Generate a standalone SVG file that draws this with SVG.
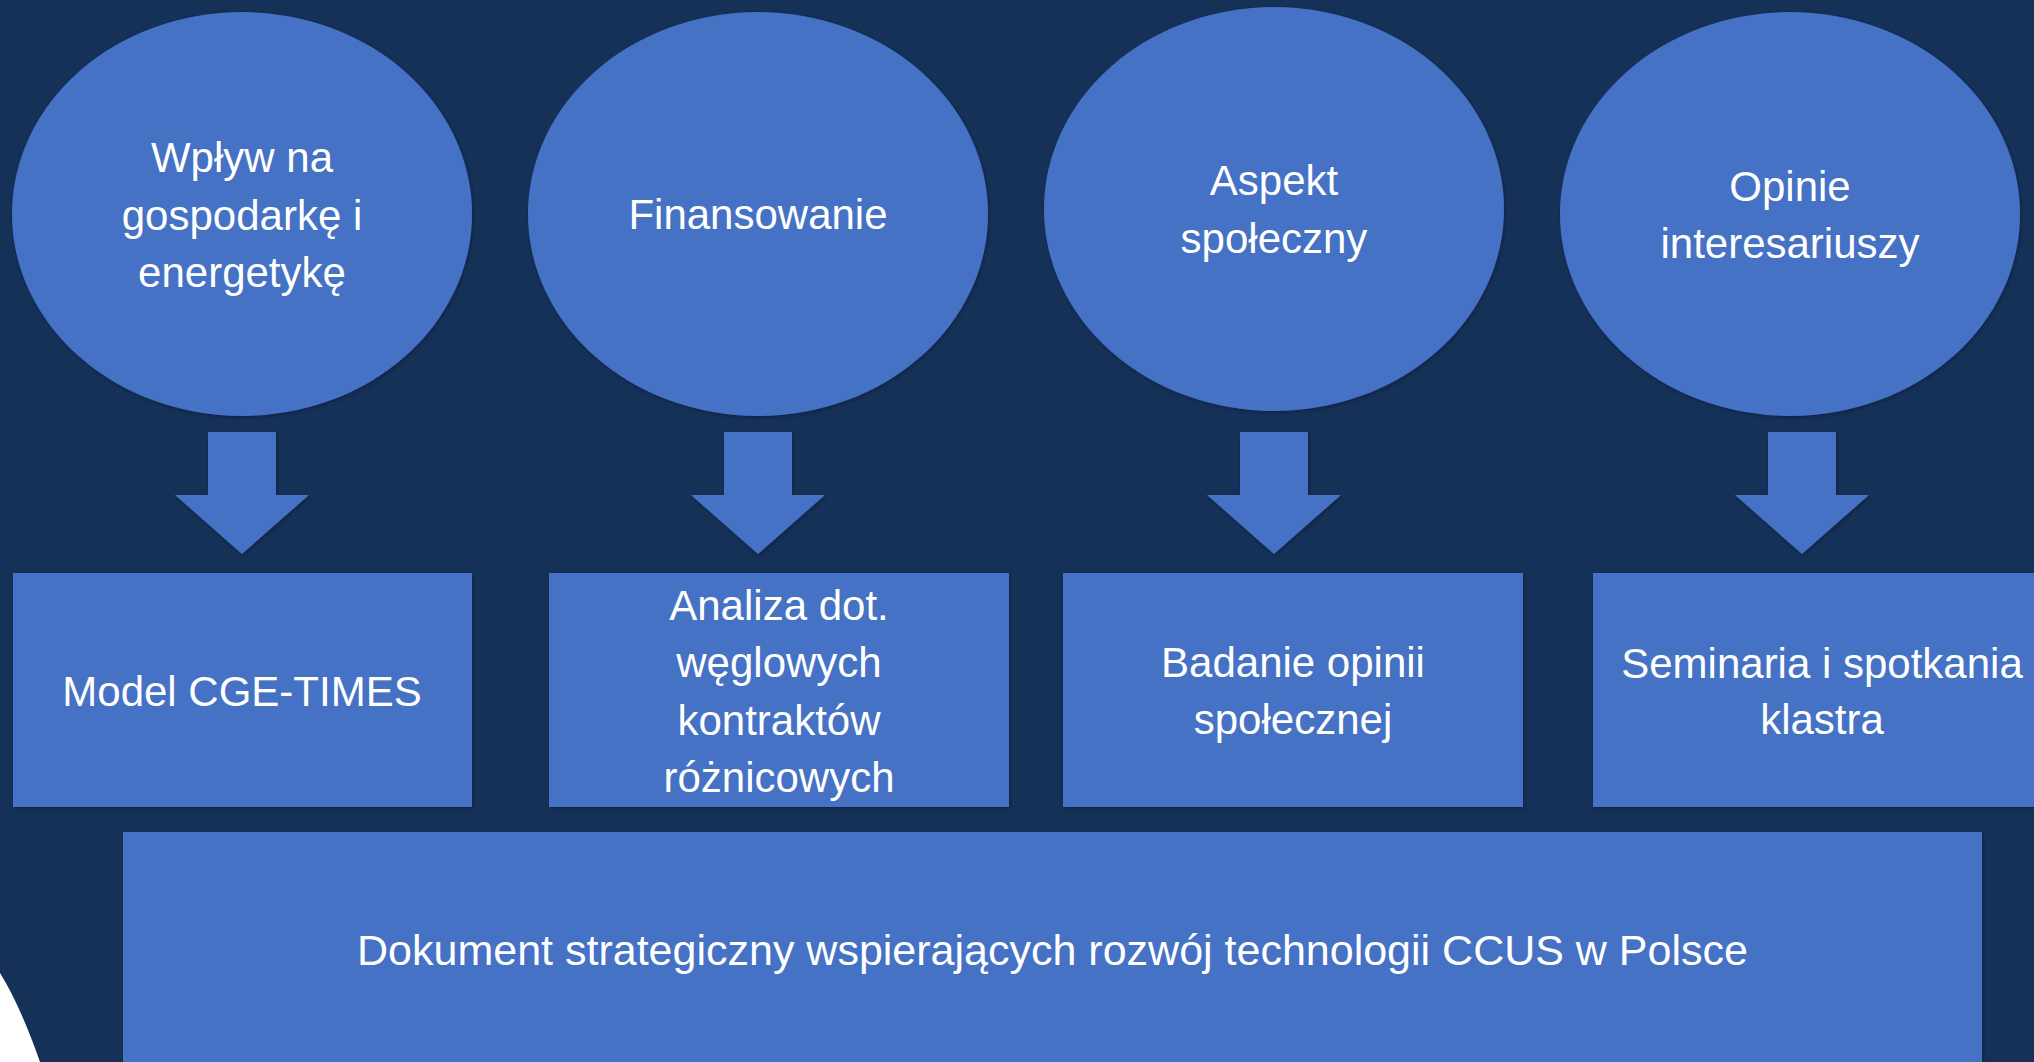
<svg xmlns="http://www.w3.org/2000/svg" width="2034" height="1062" viewBox="0 0 2034 1062">
  <defs>
    <filter id="sh" x="-5%" y="-5%" width="110%" height="110%">
      <feDropShadow dx="1" dy="1.5" stdDeviation="1.5" flood-color="#0b1d3a" flood-opacity="0.7"/>
    </filter>
  </defs>
  <style>
    .shape { fill: #4472C4; filter: url(#sh); }
    .lbl { font-family: "Liberation Sans", Arial, sans-serif; font-size: 42px; fill: #FFFFFF; text-anchor: middle; }
    .big { font-size: 43px; }
  </style>
  <rect x="0" y="0" width="2034" height="1062" fill="#153157"/>
  <path d="M0,973 Q20,1005 40,1062 L0,1062 Z" fill="#FFFFFF"/>

  <g id="node-wplyw">
    <ellipse class="shape" cx="242" cy="214" rx="230" ry="202"/>
    <text class="lbl" x="242" y="172">Wpływ na</text>
    <text class="lbl" x="242" y="229.5">gospodarkę i</text>
    <text class="lbl" x="242" y="287">energetykę</text>
  </g>
  <g id="node-finansowanie">
    <ellipse class="shape" cx="758" cy="214" rx="230" ry="202"/>
    <text class="lbl" x="758" y="229">Finansowanie</text>
  </g>
  <g id="node-aspekt">
    <ellipse class="shape" cx="1274" cy="209" rx="230" ry="202"/>
    <text class="lbl" x="1274" y="195">Aspekt</text>
    <text class="lbl" x="1274" y="253">społeczny</text>
  </g>
  <g id="node-opinie">
    <ellipse class="shape" cx="1790" cy="214" rx="230" ry="202"/>
    <text class="lbl" x="1790" y="201">Opinie</text>
    <text class="lbl" x="1790" y="258">interesariuszy</text>
  </g>

  <g id="connectors">
    <polygon class="shape" points="208,432 276,432 276,495 309,495 242,554 175,495 208,495"/>
    <polygon class="shape" points="724,432 792,432 792,495 825,495 758,554 691,495 724,495"/>
    <polygon class="shape" points="1240,432 1308,432 1308,495 1341,495 1274,554 1207,495 1240,495"/>
    <polygon class="shape" points="1768,432 1836,432 1836,495 1869,495 1802,554 1735,495 1768,495"/>
  </g>

  <g id="node-model">
    <rect class="shape" x="13" y="573" width="459" height="234"/>
    <text class="lbl" x="242" y="706">Model CGE-TIMES</text>
  </g>
  <g id="node-analiza">
    <rect class="shape" x="549" y="573" width="460" height="234"/>
    <text class="lbl" x="779" y="620">Analiza dot.</text>
    <text class="lbl" x="779" y="677">węglowych</text>
    <text class="lbl" x="779" y="735">kontraktów</text>
    <text class="lbl" x="779" y="792">różnicowych</text>
  </g>
  <g id="node-badanie">
    <rect class="shape" x="1063" y="573" width="460" height="234"/>
    <text class="lbl" x="1293" y="677">Badanie opinii</text>
    <text class="lbl" x="1293" y="734">społecznej</text>
  </g>
  <g id="node-seminaria">
    <rect class="shape" x="1593" y="573" width="460" height="234"/>
    <text class="lbl" x="1822" y="678">Seminaria i spotkania</text>
    <text class="lbl" x="1822" y="734">klastra</text>
  </g>
  <g id="node-dokument">
    <rect class="shape" x="123" y="832" width="1859" height="240"/>
    <text class="lbl big" x="1052.5" y="965">Dokument strategiczny wspierających rozwój technologii CCUS w Polsce</text>
  </g>
</svg>
